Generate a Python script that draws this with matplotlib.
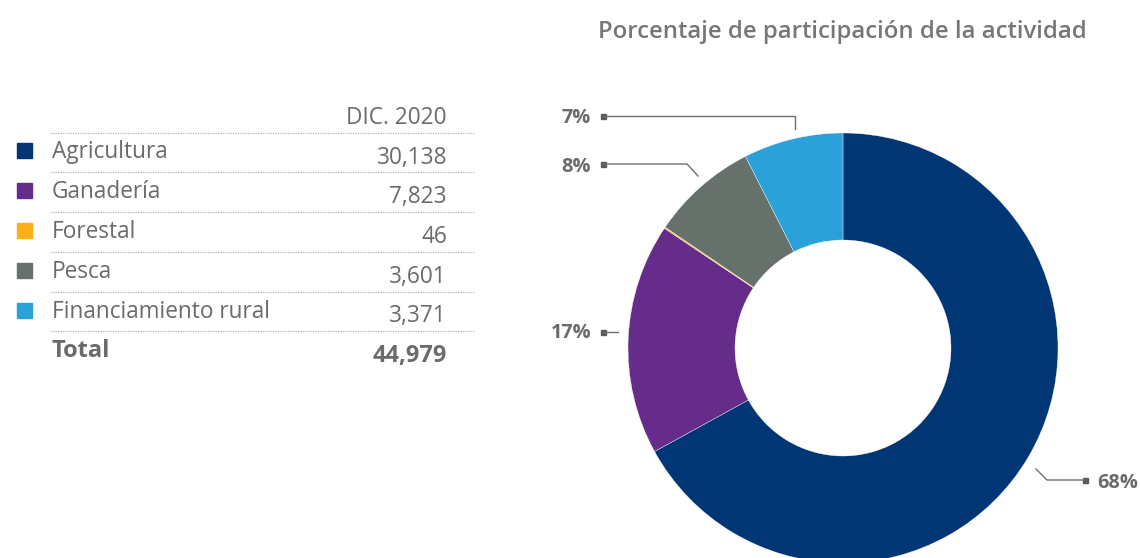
import matplotlib
matplotlib.use("Agg")
import matplotlib.pyplot as plt
from matplotlib.lines import Line2D
from matplotlib.patches import Rectangle

# ---- data ----
categories = ["Agricultura", "Ganadería", "Forestal", "Pesca", "Financiamiento rural"]
values = [30138, 7823, 46, 3601, 3371]
value_labels = ["30,138", "7,823", "46", "3,601", "3,371"]
total_label = "44,979"
column_header = "DIC. 2020"
pct_labels = ["68%", "17%", "", "8%", "7%"]
colors = ["#003673", "#652d89", "#fbb01a", "#67716c", "#2ba1da"]
title = "Porcentaje de participación de la actividad"

W, H = 1140, 558
fig = plt.figure(figsize=(W / 100, H / 100), dpi=100)
ax = fig.add_axes([0, 0, 1, 1])

def Y(py):
    return H - py

GRAY = "#6b6b6b"
FONT = "Open Sans"
ST = "normal"

# ---- donut ----
cx, cy, R = 843, 348, 215
ax.pie(values, colors=colors, startangle=90, counterclock=False,
       center=(cx, Y(cy)), radius=R, frame=True,
       wedgeprops=dict(width=107, edgecolor="white", linewidth=0.25))
ax.set_xlim(0, W)
ax.set_ylim(0, H)
ax.set_aspect("equal")
ax.axis("off")

# ---- title ----
ax.text(842, Y(32), title, ha="center", va="center", fontsize=17.2,
        fontweight="semibold", color="#777777", family=FONT, fontstretch=ST)

# ---- leader lines and percentage labels ----
lc = "#6e6e6e"
def leader(points, text, tx, ty, ha):
    xs = [p[0] for p in points]
    ys = [Y(p[1]) for p in points]
    ax.add_line(Line2D(xs, ys, color=lc, lw=1.0))
    sx, sy = points[0]
    ax.add_patch(Rectangle((sx - 2.5, Y(sy) - 2.5), 5, 5, color="#5a5a5a"))
    ax.text(tx, Y(ty), text, ha=ha, va="center", fontsize=14.3,
            fontweight="bold", color=GRAY, family=FONT, fontstretch=ST)

leader([(603, 116), (795, 116), (795, 129)], pct_labels[4], 591, 118, "right")
leader([(603, 164), (687, 164), (698, 176)], pct_labels[3], 591, 167, "right")
leader([(603, 332), (618, 332)], pct_labels[1], 591, 333, "right")
leader([(1085, 480), (1047, 480), (1036, 469)], pct_labels[0], 1097, 483, "left")

# ---- table ----
row_y = [152, 192, 232, 272, 312]
num_y = [158, 197, 237, 277, 316]
sep_y = [133, 172, 212, 252, 292, 331]
for sy in sep_y:
    ax.add_line(Line2D([50, 475], [Y(sy), Y(sy)], color="#b5b5b5", lw=0.9,
                       linestyle=(0, (1, 1))))

FS = 16.3
ax.text(447, Y(118), column_header, ha="right", va="center", fontsize=FS,
        color=GRAY, family=FONT, fontstretch=ST)
for cat, lab, col, ry, ny in zip(categories, value_labels, colors, row_y, num_y):
    ax.add_patch(Rectangle((17, Y(ry - 2) - 7.5), 15, 15, color=col))
    ax.text(52, Y(ry), cat, ha="left", va="center", fontsize=FS,
            color=GRAY, family=FONT, fontstretch=ST)
    ax.text(447, Y(ny), lab, ha="right", va="center", fontsize=FS,
            color=GRAY, family=FONT, fontstretch=ST)

ax.text(52, Y(351), "Total", ha="left", va="center", fontsize=17,
        fontweight="bold", color=GRAY, family=FONT, fontstretch=ST)
ax.text(447, Y(356), total_label, ha="right", va="center", fontsize=17,
        fontweight="bold", color=GRAY, family=FONT, fontstretch=ST)

fig.savefig("out.png", dpi=100)
